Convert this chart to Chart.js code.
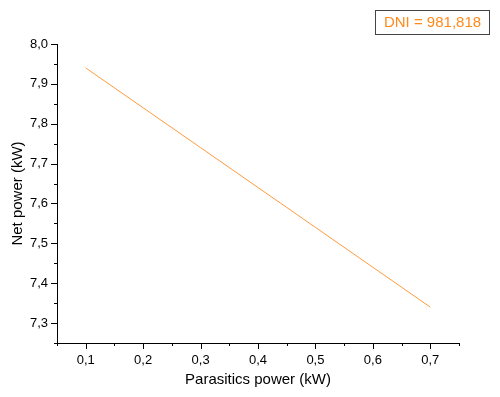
<!DOCTYPE html>
<html>
<head>
<meta charset="utf-8">
<script src="https://cdn.jsdelivr.net/npm/chart.js@4/dist/chart.umd.min.js"></script>
<style>
  body { margin: 0; background: #fff; }
  #wrap { width: 500px; height: 397px; }
</style>
</head>
<body>
<div id="wrap"><canvas id="chart" width="500" height="397"></canvas></div>
<script>
// Net power vs parasitics power, DNI = 981,818
const parasiticsPower = [0.1, 0.2, 0.3, 0.4, 0.5, 0.6, 0.7];
const netPower = [7.94, 7.84, 7.74, 7.64, 7.54, 7.44, 7.34];
const seriesLabel = 'DNI = 981,818';

const FONT = 'Liberation Sans, Arial, sans-serif';
const ORANGE = '#ff9a3c';

const commaLabel = (v) => {
    const r = Math.round(v * 100);
    return r % 10 === 0 ? (r / 100).toFixed(1).replace('.', ',') : '';
};

// major ticks (labelled) are long, minor ticks are short
const tickMarks = {
    id: 'tickMarks',
    afterDraw(chart) {
        const c = chart.ctx;
        const xs = chart.scales.x, ys = chart.scales.y;
        c.save();
        c.strokeStyle = '#000';
        c.lineWidth = 1;
        xs.ticks.forEach(t => {
            const px = Math.round(xs.getPixelForValue(t.value)) + 0.5;
            const len = commaLabel(t.value) ? 6 : 3;
            c.beginPath();
            c.moveTo(px, xs.top);
            c.lineTo(px, xs.top + len);
            c.stroke();
        });
        ys.ticks.forEach(t => {
            const py = Math.round(ys.getPixelForValue(t.value)) + 0.5;
            const len = commaLabel(t.value) ? 6 : 3;
            c.beginPath();
            c.moveTo(ys.right, py);
            c.lineTo(ys.right - len, py);
            c.stroke();
        });
        c.restore();
    }
};

// boxed legend at the top right
const boxLegend = {
    id: 'boxLegend',
    afterDraw(chart) {
        const c = chart.ctx;
        c.save();
        c.strokeStyle = '#444';
        c.lineWidth = 1;
        c.strokeRect(375.5, 10.5, 114, 24);
        c.fillStyle = '#ff8a1c';
        c.font = '15px ' + FONT;
        c.textAlign = 'center';
        c.textBaseline = 'middle';
        c.fillText(chart.data.datasets[0].label, 432.5, 23);
        c.restore();
    }
};

new Chart(document.getElementById('chart').getContext('2d'), {
    type: 'line',
    data: {
        datasets: [{
            label: seriesLabel,
            data: parasiticsPower.map((x, i) => ({ x: x, y: netPower[i] })),
            borderColor: ORANGE,
            borderWidth: 1,
            pointRadius: 0,
            tension: 0,
            fill: false
        }]
    },
    options: {
        responsive: false,
        animation: false,
        layout: { padding: { left: 0, right: 41, top: 44, bottom: 0 } },
        plugins: {
            legend: { display: false },
            tooltip: { enabled: false }
        },
        scales: {
            x: {
                type: 'linear',
                min: 0.05,
                max: 0.75,
                afterFit: (s) => { s.height = 54; },
                grid: { drawOnChartArea: false, drawTicks: false },
                border: { display: true, color: '#000', width: 1 },
                ticks: {
                    stepSize: 0.05,
                    autoSkip: false,
                    maxRotation: 0,
                    padding: 10,
                    color: '#000',
                    font: { family: FONT, size: 13 },
                    callback: (v) => commaLabel(v)
                },
                title: {
                    display: true,
                    text: 'Parasitics power (kW)',
                    color: '#000',
                    font: { family: FONT, size: 15 },
                    padding: { top: 0, bottom: 8 }
                }
            },
            y: {
                type: 'linear',
                min: 7.25,
                max: 8.0,
                afterFit: (s) => { s.width = 57; },
                grid: { drawOnChartArea: false, drawTicks: false },
                border: { display: true, color: '#000', width: 1 },
                ticks: {
                    stepSize: 0.05,
                    autoSkip: false,
                    padding: 9,
                    color: '#000',
                    font: { family: FONT, size: 13 },
                    callback: (v) => commaLabel(v)
                },
                title: {
                    display: true,
                    text: 'Net power (kW)',
                    color: '#000',
                    font: { family: FONT, size: 15 },
                    padding: { top: 9, bottom: 0 }
                }
            }
        }
    },
    plugins: [tickMarks, boxLegend]
});
</script>
</body>
</html>
